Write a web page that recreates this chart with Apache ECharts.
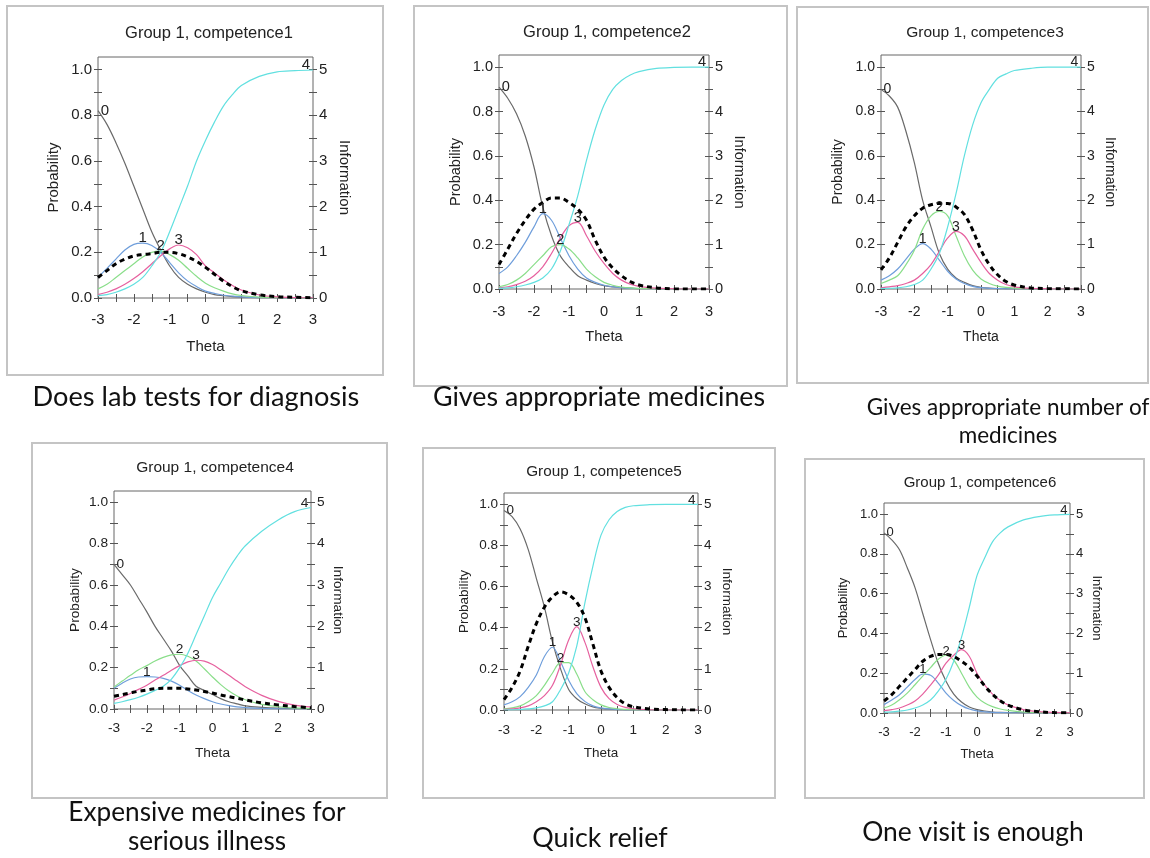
<!DOCTYPE html>
<html><head><meta charset="utf-8">
<script src="https://cdn.jsdelivr.net/npm/echarts@6/dist/echarts.min.js"></script>
<style>html,body{margin:0;padding:0;background:#fff}#c{width:1150px;height:858px}</style>
</head><body><div id="c"></div>
<script>
// ---------- data ----------
const theta = [-3,-2.75,-2.5,-2.25,-2,-1.75,-1.5,-1.25,-1,-0.75,-0.5,-0.25,0,0.25,0.5,0.75,1,1.5,2,2.5,3];
const titles = ['Group 1, competence1','Group 1, competence2','Group 1, competence3','Group 1, competence4','Group 1, competence5','Group 1, competence6'];
const captions = [['Does lab tests for diagnosis'],['Gives appropriate medicines'],['Gives appropriate number of','medicines'],['Expensive medicines for','serious illness'],['Quick relief'],['One visit is enough']];
const catLabels = ['0','1','2','3','4'];
const xTickLabels = [-3,-2,-1,0,1,2,3];
const probTickLabels = [0,0.2,0.4,0.6,0.8,1.0];
const infoTickLabels = [0,1,2,3,4,5];

const p1_c0 = [0.82,0.76,0.68,0.59,0.49,0.39,0.29,0.21,0.14,0.09,0.06,0.04,0.025,0.015,0.01,0.006,0.004,0.002,0.001,0,0];
const p1_c1 = [0.09,0.13,0.17,0.21,0.235,0.24,0.23,0.20,0.155,0.11,0.075,0.05,0.03,0.02,0.012,0.008,0.005,0.002,0.001,0,0];
const p1_c2 = [0.04,0.06,0.09,0.12,0.15,0.18,0.20,0.205,0.19,0.165,0.13,0.095,0.065,0.045,0.03,0.018,0.011,0.004,0.002,0.001,0];
const p1_c3 = [0.015,0.025,0.04,0.06,0.085,0.115,0.15,0.185,0.215,0.232,0.22,0.19,0.14,0.11,0.08,0.055,0.035,0.013,0.005,0.002,0.001];
const p1_c4 = [0.01,0.015,0.025,0.04,0.06,0.09,0.14,0.2,0.29,0.39,0.49,0.6,0.69,0.77,0.84,0.89,0.93,0.97,0.99,0.995,0.998];
const p1_info = [0.45,0.6,0.75,0.85,0.92,0.95,0.97,1.0,1.0,0.97,0.9,0.8,0.67,0.52,0.37,0.25,0.16,0.07,0.03,0.015,0.005];

const p2_c0 = [0.91,0.86,0.79,0.69,0.55,0.37,0.24,0.15,0.10,0.06,0.04,0.025,0.015,0.01,0.006,0.004,0.002,0.001,0,0,0];
const p2_c1 = [0.07,0.10,0.15,0.21,0.28,0.34,0.31,0.23,0.15,0.09,0.05,0.03,0.017,0.01,0.006,0.003,0.002,0,0,0,0];
const p2_c2 = [0.01,0.02,0.04,0.07,0.11,0.15,0.19,0.20,0.18,0.14,0.09,0.055,0.03,0.017,0.009,0.005,0.003,0.001,0,0,0];
const p2_c3 = [0.005,0.01,0.02,0.035,0.06,0.10,0.16,0.23,0.285,0.30,0.24,0.17,0.115,0.07,0.04,0.022,0.012,0.004,0.001,0,0];
const p2_c4 = [0.003,0.005,0.01,0.018,0.03,0.05,0.09,0.17,0.29,0.42,0.58,0.72,0.83,0.90,0.94,0.965,0.98,0.995,0.999,1,1];
const p2_info = [0.55,0.9,1.25,1.55,1.8,1.95,2.05,2.05,1.95,1.8,1.55,1.1,0.72,0.47,0.3,0.17,0.09,0.025,0.005,0,0];

const p3_c0 = [0.90,0.87,0.82,0.71,0.57,0.40,0.28,0.16,0.09,0.05,0.03,0.015,0.008,0.004,0.002,0.001,0,0,0,0,0];
const p3_c1 = [0.04,0.06,0.09,0.135,0.18,0.205,0.18,0.13,0.08,0.045,0.025,0.012,0.006,0.003,0.002,0.001,0,0,0,0,0];
const p3_c2 = [0.025,0.04,0.06,0.11,0.175,0.27,0.33,0.35,0.33,0.24,0.15,0.085,0.045,0.025,0.013,0.007,0.004,0.001,0,0,0];
const p3_c3 = [0.005,0.01,0.015,0.025,0.04,0.07,0.11,0.17,0.23,0.26,0.24,0.18,0.12,0.07,0.04,0.02,0.01,0.003,0.001,0,0];
const p3_c4 = [0.002,0.003,0.005,0.01,0.02,0.04,0.09,0.16,0.28,0.43,0.6,0.74,0.84,0.9,0.95,0.97,0.985,0.995,1,1,1];
const p3_info = [0.43,0.7,1.05,1.4,1.65,1.82,1.9,1.93,1.93,1.85,1.68,1.33,0.88,0.55,0.32,0.17,0.09,0.025,0.01,0.005,0];

const p4_c0 = [0.70,0.65,0.60,0.535,0.47,0.40,0.34,0.28,0.21,0.16,0.11,0.09,0.07,0.05,0.035,0.025,0.015,0.008,0.004,0.002,0.001];
const p4_c1 = [0.10,0.125,0.145,0.155,0.157,0.155,0.148,0.135,0.115,0.09,0.068,0.05,0.035,0.024,0.016,0.01,0.007,0.003,0.001,0,0];
const p4_c2 = [0.107,0.135,0.163,0.19,0.21,0.232,0.25,0.262,0.265,0.255,0.232,0.195,0.155,0.118,0.087,0.063,0.045,0.022,0.011,0.005,0.002];
const p4_c3 = [0.043,0.058,0.075,0.095,0.115,0.14,0.163,0.188,0.21,0.228,0.236,0.232,0.215,0.19,0.163,0.135,0.108,0.066,0.037,0.019,0.01];
const p4_c4 = [0.027,0.035,0.045,0.057,0.072,0.09,0.11,0.145,0.2,0.27,0.36,0.45,0.54,0.61,0.68,0.74,0.79,0.86,0.915,0.955,0.975];
const p4_info = [0.31,0.35,0.39,0.43,0.46,0.49,0.5,0.5,0.5,0.485,0.46,0.425,0.385,0.34,0.3,0.26,0.22,0.15,0.1,0.06,0.03];

const p5_c0 = [0.97,0.94,0.88,0.78,0.64,0.50,0.33,0.20,0.10,0.055,0.03,0.015,0.008,0.004,0.002,0.001,0,0,0,0,0];
const p5_c1 = [0.025,0.04,0.065,0.11,0.17,0.26,0.305,0.235,0.145,0.08,0.042,0.02,0.01,0.005,0.002,0.001,0,0,0,0,0];
const p5_c2 = [0.005,0.01,0.02,0.04,0.07,0.12,0.18,0.23,0.23,0.175,0.09,0.05,0.025,0.012,0.006,0.003,0.001,0,0,0,0];
const p5_c3 = [0.002,0.005,0.01,0.02,0.04,0.07,0.12,0.22,0.34,0.405,0.33,0.21,0.11,0.055,0.027,0.013,0.006,0.001,0,0,0];
const p5_c4 = [0,0.001,0.002,0.005,0.01,0.02,0.04,0.1,0.18,0.31,0.52,0.70,0.85,0.925,0.965,0.985,0.993,0.998,1,1,1];
const p5_info = [0.25,0.55,0.95,1.55,2.1,2.5,2.75,2.87,2.8,2.62,2.25,1.6,0.95,0.55,0.3,0.15,0.08,0.025,0.01,0.003,0];

const p6_c0 = [0.905,0.87,0.82,0.73,0.63,0.50,0.37,0.25,0.16,0.095,0.055,0.03,0.017,0.01,0.005,0.003,0.002,0.001,0,0,0];
const p6_c1 = [0.042,0.065,0.092,0.13,0.168,0.195,0.19,0.15,0.1,0.063,0.037,0.02,0.011,0.006,0.003,0.002,0.001,0,0,0,0];
const p6_c2 = [0.025,0.04,0.067,0.1,0.142,0.185,0.228,0.27,0.29,0.265,0.2,0.13,0.08,0.05,0.032,0.02,0.013,0.005,0.002,0.001,0];
const p6_c3 = [0.012,0.017,0.025,0.04,0.06,0.095,0.14,0.19,0.25,0.29,0.318,0.285,0.2,0.14,0.095,0.063,0.041,0.017,0.007,0.003,0.001];
const p6_c4 = [0.004,0.006,0.01,0.015,0.025,0.04,0.065,0.11,0.17,0.26,0.38,0.53,0.69,0.78,0.86,0.905,0.935,0.97,0.987,0.995,0.998];
const p6_info = [0.3,0.46,0.67,0.88,1.09,1.3,1.42,1.47,1.47,1.42,1.3,1.15,0.93,0.68,0.47,0.31,0.2,0.08,0.03,0.01,0.005];

const panelCurves = [
  [p1_c0,p1_c1,p1_c2,p1_c3,p1_c4],
  [p2_c0,p2_c1,p2_c2,p2_c3,p2_c4],
  [p3_c0,p3_c1,p3_c2,p3_c3,p3_c4],
  [p4_c0,p4_c1,p4_c2,p4_c3,p4_c4],
  [p5_c0,p5_c1,p5_c2,p5_c3,p5_c4],
  [p6_c0,p6_c1,p6_c2,p6_c3,p6_c4]
];
const panelInfo = [p1_info,p2_info,p3_info,p4_info,p5_info,p6_info];

// ---------- layout / style ----------
const F = '"Liberation Sans", Arial, sans-serif';
const CAPF = 'Lato, "Open Sans", sans-serif';
const curveColors = ['#6a6a6a','#6f9edb','#8ade8a','#e6619f','#62e0e0'];
const layout = [
  {box:[7,6,383,375],   plot:[98,57,215,241],  fs:15,   tfs:16.5, tx:209, ty:33,  tickM:14, xGap:41, pGap:37, iGap:24, capX:196, capY:[397], capFs:27.2},
  {box:[414,6,787,386], plot:[499,55,210,234], fs:14.6, tfs:16.5, tx:607, ty:32,  tickM:15, xGap:40, pGap:36, iGap:23, capX:599, capY:[397], capFs:26.8},
  {box:[797,7,1148,383],plot:[881,55,200,234], fs:14,   tfs:15.5, tx:985, ty:33,  tickM:16, xGap:41, pGap:36, iGap:22, capX:1008, capY:[408,436], capFs:22.5},
  {box:[32,443,387,798],plot:[114,491,197,218],fs:13.7, tfs:15.5, tx:215, ty:468, tickM:12, xGap:37, pGap:32, iGap:20, capX:207, capY:[813,842], capFs:26.2},
  {box:[423,448,775,798],plot:[504,493,194,217],fs:13.5,tfs:15.3, tx:604, ty:472, tickM:13, xGap:36, pGap:33, iGap:22, capX:600, capY:[838], capFs:26.8},
  {box:[805,459,1144,798],plot:[884,503,186,210],fs:13,  tfs:15,   tx:980, ty:483, tickM:12.5, xGap:34.5, pGap:34.5, iGap:20.5, capX:973, capY:[832], capFs:26.4}
];
const PMAX = 1.055, IMAX = 5.275;
const xTicks = [], pTicks = [], iTicks = [];
for (let i = 0; i <= 12; i++) xTicks.push(-3 + i * 0.5);
for (let i = 0; i <= 10; i++) pTicks.push(+(i * 0.1).toFixed(1));
for (let i = 0; i <= 10; i++) iTicks.push(i * 0.5);

const grids = [], xAxes = [], yAxes = [], series = [], graphics = [];
const tickStyle = {color:'#555', width:1};

layout.forEach((L, p) => {
  const s = L.plot[2] / 215;
  grids.push({left:L.plot[0], top:L.plot[1], width:L.plot[2], height:L.plot[3], show:true, borderColor:'#666', borderWidth:1, backgroundColor:'rgba(0,0,0,0)', containLabel:false});
  const xBase = {gridIndex:p, type:'value', min:-3, max:3, interval:0.5, position:'bottom', axisLine:{show:false, onZero:false}, splitLine:{show:false}};
  xAxes.push(Object.assign({}, xBase, {
    axisTick:{show:true, length:4, lineStyle:tickStyle, customValues:xTicks},
    axisLabel:{show:true, customValues:xTickLabels, fontSize:L.fs, color:'#222', margin:L.tickM, fontFamily:F, formatter:v => String(v)},
    name:'Theta', nameLocation:'middle', nameGap:L.xGap, nameTextStyle:{fontSize:L.fs, color:'#222', fontFamily:F}
  }));
  xAxes.push(Object.assign({}, xBase, {axisTick:{show:true, inside:true, length:4, lineStyle:tickStyle, customValues:xTicks}, axisLabel:{show:false}}));
  const yBase = {gridIndex:p, type:'value', min:0, splitLine:{show:false}, axisLine:{show:false, onZero:false}};
  yAxes.push(Object.assign({}, yBase, {
    position:'left', max:PMAX, interval:0.1,
    axisTick:{show:true, length:4, lineStyle:tickStyle, customValues:pTicks},
    axisLabel:{show:true, customValues:probTickLabels, fontSize:L.fs, color:'#222', margin:6, fontFamily:F, formatter:v => v.toFixed(1)},
    name:'Probability', nameLocation:'middle', nameGap:L.pGap, nameTextStyle:{fontSize:L.fs, color:'#222', fontFamily:F}
  }));
  yAxes.push(Object.assign({}, yBase, {position:'left', max:PMAX, interval:0.1, axisTick:{show:true, inside:true, length:4, lineStyle:tickStyle, customValues:pTicks}, axisLabel:{show:false}}));
  yAxes.push(Object.assign({}, yBase, {
    position:'right', max:IMAX, interval:0.5,
    axisTick:{show:true, length:4, lineStyle:tickStyle, customValues:iTicks},
    axisLabel:{show:true, customValues:infoTickLabels, fontSize:L.fs, color:'#222', margin:6, fontFamily:F, formatter:v => String(v)},
    name:'Information', nameLocation:'middle', nameRotate:-90, nameGap:L.iGap, nameTextStyle:{fontSize:L.fs, color:'#222', fontFamily:F}
  }));
  yAxes.push(Object.assign({}, yBase, {position:'right', max:IMAX, interval:0.5, axisTick:{show:true, inside:true, length:4, lineStyle:tickStyle, customValues:iTicks}, axisLabel:{show:false}}));

  // category curves
  panelCurves[p].forEach((vals, k) => {
    let idx;
    if (k === 0) idx = 0;
    else if (k === 4) idx = vals.length - 1;
    else { idx = 0; vals.forEach((v, i) => { if (v > vals[idx]) idx = i; }); }
    const off = k === 0 ? [7*s, 0] : (k === 4 ? [-7*s, -5*s] : [0, -5*s]);
    series.push({
      type:'line', xAxisIndex:2*p, yAxisIndex:4*p, name:'cat'+k,
      data: theta.map((t, i) => [t, vals[i]]),
      showSymbol:false, smooth:0.35, silent:true,
      lineStyle:{color:curveColors[k], width:1.2},
      itemStyle:{color:curveColors[k]},
      z:2,
      markPoint:{
        symbol:'circle', symbolSize:1, silent:true, itemStyle:{color:'rgba(0,0,0,0)'},
        label:{show:true, position:'inside', offset:off, formatter:catLabels[k], fontSize:L.fs, color:'#222', fontFamily:F},
        data:[{coord:[theta[idx], vals[idx]]}]
      }
    });
  });
  // information curve
  series.push({
    type:'line', xAxisIndex:2*p, yAxisIndex:4*p+2, name:'info',
    data: theta.map((t, i) => [t, panelInfo[p][i]]),
    showSymbol:false, smooth:0.35, silent:true,
    lineStyle:{color:'#000', width:3, type:[5,4]},
    z:3
  });

  // panel frame, title, caption
  graphics.push({type:'rect', shape:{x:L.box[0], y:L.box[1], width:L.box[2]-L.box[0], height:L.box[3]-L.box[1]}, style:{fill:'none', stroke:'#c4c4c4', lineWidth:2}, silent:true});
  graphics.push({type:'text', style:{text:titles[p], x:L.tx, y:L.ty, textAlign:'center', textVerticalAlign:'middle', font:L.tfs + 'px ' + F, fill:'#222'}, silent:true});
  captions[p].forEach((line, j) => {
    graphics.push({type:'text', style:{text:line, x:L.capX, y:L.capY[j], textAlign:'center', textVerticalAlign:'middle', font:L.capFs + 'px ' + CAPF, fill:'#111'}, silent:true});
  });
});

const chart = echarts.init(document.getElementById('c'), null, {renderer:'canvas'});
chart.setOption({
  animation:false,
  backgroundColor:'#fff',
  grid:grids, xAxis:xAxes, yAxis:yAxes, series:series,
  graphic:graphics
});
</script>
</body></html>
